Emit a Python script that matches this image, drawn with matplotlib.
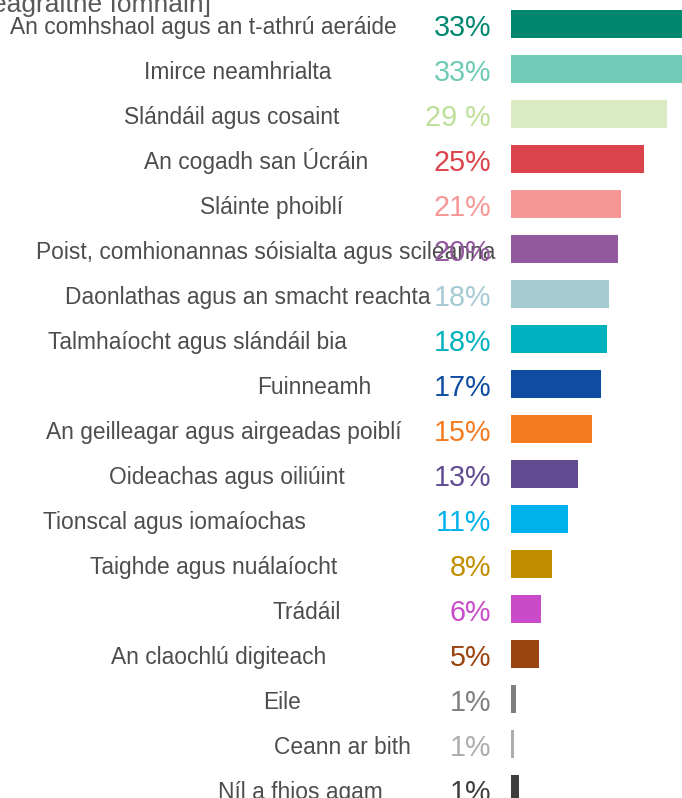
import matplotlib
matplotlib.use("Agg")
import matplotlib.pyplot as plt

plt.rcParams['font.family'] = ['Liberation Sans', 'DejaVu Sans']

labels = [
    "An comhshaol agus an t-athrú aeráide",
    "Imirce neamhrialta",
    "Slándáil agus cosaint",
    "An cogadh san Úcráin",
    "Sláinte phoiblí",
    "Poist, comhionannas sóisialta agus scileanna",
    "Daonlathas agus an smacht reachta",
    "Talmhaíocht agus slándáil bia",
    "Fuinneamh",
    "An geilleagar agus airgeadas poiblí",
    "Oideachas agus oiliúint",
    "Tionscal agus iomaíochas",
    "Taighde agus nuálaíocht",
    "Trádáil",
    "An claochlú digiteach",
    "Eile",
    "Ceann ar bith",
    "Níl a fhios agam",
]
values = [33.4, 33.0, 29.4, 25.1, 20.8, 20.2, 18.5, 18.1, 17.0, 15.3,
          12.6, 10.8, 7.7, 5.7, 5.3, 0.9, 0.6, 1.5]
value_text = ["33%", "33%", "29 %", "25%", "21%", "20%", "18%", "18%", "17%",
              "15%", "13%", "11%", "8%", "6%", "5%", "1%", "1%", "1%"]
bar_colors = ["#008770", "#6FCAB6", "#DAEBC3", "#DB444D", "#F59795", "#93599E",
              "#A5CAD2", "#00B2BF", "#0E4DA1", "#F47B20", "#624B91", "#00B1EB",
              "#C28E00", "#CA4BCA", "#9A4410", "#7F7F7F", "#B0ACAC", "#3D3D3D"]
text_colors = list(bar_colors)
text_colors[2] = "#BEDF98"

# label centres in pixels (free-placed text boxes in the original)
label_cx = [203, 238, 232, 256, 271, 266, 248, 197, 314, 224, 227, 174,
            214, 307, 219, 282, 342, 300]

W, H = 682, 798
fig = plt.figure(figsize=(W / 100, H / 100), dpi=100)

x0 = 511
px_per_pct = 5.3
row0, pitch = 24, 45.0
ax = fig.add_axes([x0 / W, 0, 1 - x0 / W, 1])
ax.set_xlim(0, (W - x0) / px_per_pct)
ax.set_ylim((H - row0) / pitch, -row0 / pitch)
ax.axis('off')

ypos = list(range(len(labels)))
ax.barh(ypos, values, height=28 / pitch, color=bar_colors, left=0)

for i in ypos:
    ax.annotate(labels[i], xy=(label_cx[i], i), xycoords=('figure pixels', 'data'),
                xytext=(0, -10), textcoords='offset pixels',
                ha='center', va='baseline', fontsize=16.4, color='#4D4D4D',
                annotation_clip=False)
    ax.annotate(value_text[i], xy=(491, i), xycoords=('figure pixels', 'data'),
                xytext=(0, -11.5), textcoords='offset pixels',
                ha='right', va='baseline', fontsize=20.7, color=text_colors[i],
                annotation_clip=False)

fig.text(211 / W, 1 - 12 / H, "eagraithe íomháin]", ha='right', va='baseline',
         fontsize=19, color='#595959')

fig.savefig("out.png", dpi=100)
